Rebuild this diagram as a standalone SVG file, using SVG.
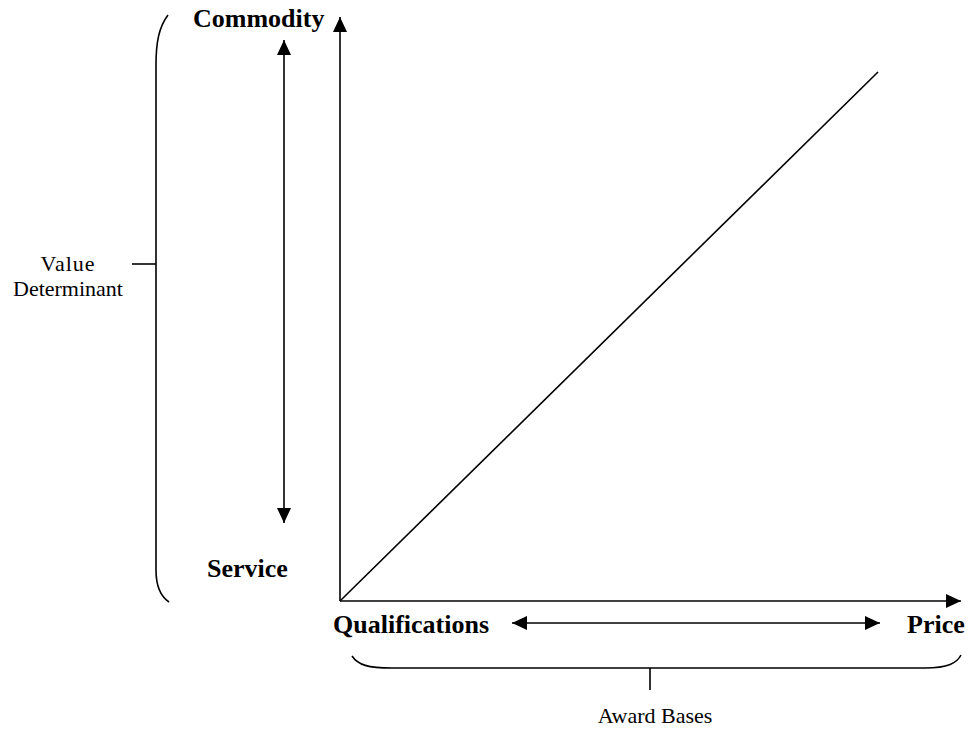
<svg xmlns="http://www.w3.org/2000/svg" width="969" height="729" viewBox="0 0 969 729">
<style>
.ln{stroke:#000;stroke-width:1.6;fill:none}
.b{font-family:"Liberation Serif",serif;font-weight:bold;font-size:26px;fill:#000}
.r{font-family:"Liberation Serif",serif;font-size:22px;fill:#000}
</style>
<defs>
<marker id="ah" viewBox="0 0 15 14" refX="15" refY="7" markerWidth="15" markerHeight="14" markerUnits="userSpaceOnUse" orient="auto-start-reverse">
<path d="M0,0 L15,7 L0,14 Z" fill="#000"/>
</marker>
</defs>
<g id="connectors">
<line class="ln" x1="340" y1="601" x2="340" y2="17" marker-end="url(#ah)"/>
<line class="ln" x1="340" y1="601" x2="961" y2="601" marker-end="url(#ah)"/>
<line class="ln" x1="340" y1="601" x2="878" y2="72"/>
<line class="ln" x1="284" y1="40" x2="284" y2="523" marker-start="url(#ah)" marker-end="url(#ah)"/>
<line class="ln" x1="512" y1="623" x2="880" y2="623" marker-start="url(#ah)" marker-end="url(#ah)"/>
</g>
<g id="left-brace">
<path class="ln" d="M168,15 C159,27 156,42 156,65 L156,570 C156,586 160,596 169,602"/>
<line class="ln" x1="132" y1="264" x2="156" y2="264"/>
</g>
<g id="bottom-brace">
<path class="ln" d="M352,656 C358,665 368,668 392,668 L925,668 C948,668 957,663 961,655"/>
<line class="ln" x1="650" y1="668" x2="650" y2="690"/>
</g>
<g id="commodity"><text class="b" x="193" y="27">Commodity</text></g>
<g id="service"><text class="b" x="207" y="577">Service</text></g>
<g id="qualifications"><text class="b" x="333" y="633">Qualifications</text></g>
<g id="price"><text class="b" x="907" y="633">Price</text></g>
<g id="value-determinant"><text class="r" text-anchor="middle" x="68" y="271" letter-spacing="1">Value</text><text class="r" text-anchor="middle" x="68" y="296">Determinant</text></g>
<g id="award-bases"><text class="r" text-anchor="middle" x="655" y="723">Award Bases</text></g>
</svg>
